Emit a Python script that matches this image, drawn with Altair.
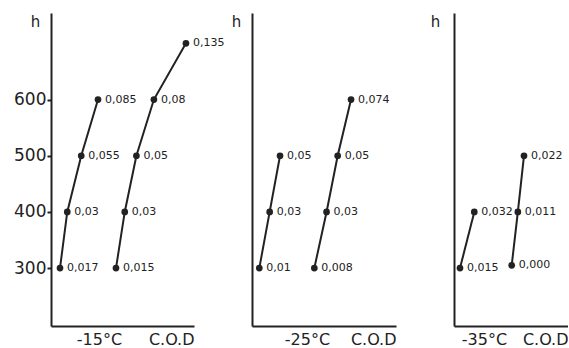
import altair as alt
import pandas as pd

# Crack-opening displacement (C.O.D) against h, three test temperatures,
# two specimen series per temperature.
temps = ["-15°C", "-25°C", "-35°C"]

p1_a_h = [300, 400, 500, 600]
p1_a_cod = ["0,017", "0,03", "0,055", "0,085"]
p1_b_h = [300, 400, 500, 600, 700]
p1_b_cod = ["0,015", "0,03", "0,05", "0,08", "0,135"]

p2_a_h = [300, 400, 500]
p2_a_cod = ["0,01", "0,03", "0,05"]
p2_b_h = [300, 400, 500, 600]
p2_b_cod = ["0,008", "0,03", "0,05", "0,074"]

p3_a_h = [300, 400]
p3_a_cod = ["0,015", "0,032"]
p3_b_h = [305, 400, 500]
p3_b_cod = ["0,000", "0,011", "0,022"]

h_ticks = [300, 400, 500, 600]

INK = "#222222"
FONT = "DejaVu Sans"
PLOT_H = 313
Y_DOMAIN = [197, 754]


def y_axis(with_labels, title_dx):
    common = dict(
        title="h", titleAngle=0, titleX=title_dx, titleY=8,
        titleAlign="center", titleBaseline="middle", titleFontSize=15,
        titleFontWeight="normal", grid=False, domainWidth=2,
    )
    if with_labels:
        return alt.Axis(values=h_ticks, labelFontSize=17, tickSize=4,
                        tickWidth=2, labelPadding=1, **common)
    return alt.Axis(labels=False, ticks=False, **common)


def series(h, cod, x_domain, x_axis, yax):
    df = pd.DataFrame({
        "h": h,
        "label": cod,
        "cod": [float(s.replace(",", ".")) for s in cod],
    })
    base = alt.Chart(df).encode(
        x=alt.X("cod:Q", scale=alt.Scale(domain=x_domain, nice=False, zero=False), axis=x_axis),
        y=alt.Y("h:Q", scale=alt.Scale(domain=Y_DOMAIN, nice=False, zero=False), axis=yax),
    )
    line = base.mark_line(color=INK, strokeWidth=2).encode(order="h:Q")
    dots = base.mark_point(filled=True, color=INK, size=45, opacity=1)
    text = base.mark_text(align="left", baseline="middle", dx=7, font=FONT,
                          fontSize=11, color=INK).encode(text="label:N")
    return alt.layer(line, dots, text)


def panel(width, temp, temp_x, a, b, a_dom, b_dom, yax):
    axis_a = alt.Axis(orient="bottom", labels=False, ticks=False, grid=False,
                      domainWidth=2, title=temp, titleX=temp_x, titleY=13,
                      titleAlign="center", titleBaseline="middle",
                      titleFontSize=16, titleFontWeight="normal")
    axis_b = alt.Axis(orient="bottom", labels=False, ticks=False, grid=False,
                      domain=False, title="C.O.D", titleX=width, titleY=13,
                      titleAlign="right", titleBaseline="middle",
                      titleFontSize=16, titleFontWeight="normal")
    return alt.layer(
        series(a[0], a[1], a_dom, axis_a, yax),
        series(b[0], b[1], b_dom, axis_b, yax),
    ).resolve_scale(x="independent").properties(width=width, height=PLOT_H)


panel1 = panel(143, temps[0], 48, (p1_a_h, p1_a_cod), (p1_b_h, p1_b_cod),
               [0.0009, 0.2567], [-0.0965, 0.1488], y_axis(True, -16))
panel2 = panel(144, temps[1], 55, (p2_a_h, p2_a_cod), (p2_b_h, p2_b_cod),
               [-0.0041, 0.2739], [-0.1041, 0.1549], y_axis(False, -16))
panel3 = panel(114, temps[2], 30, (p3_a_h, p3_a_cod), (p3_b_h, p3_b_cod),
               [0.00787, 0.1434], [-0.1032, 0.1007], y_axis(False, -19))

chart = alt.hconcat(panel1, panel2, panel3, spacing=58, bounds="flush").properties(
    padding={"left": 13, "top": 13, "right": 0, "bottom": 0},
    background="white",
).configure_view(stroke=None).configure_axis(
    domainColor=INK, tickColor=INK, labelColor=INK, titleColor=INK,
    labelFont=FONT, titleFont=FONT,
)

chart.save("out.html", embed_options={"renderer": "svg", "actions": False})
